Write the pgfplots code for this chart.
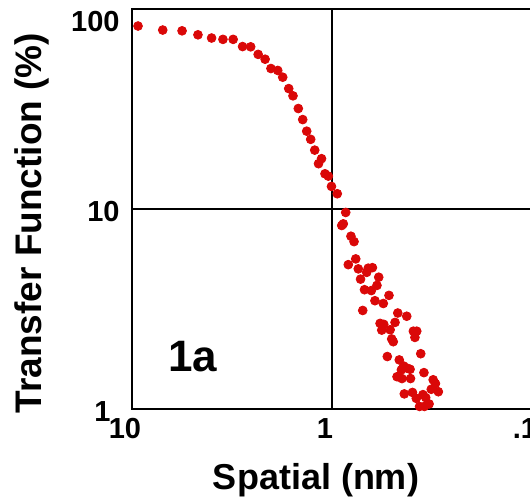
\documentclass[border=0pt]{standalone}
\usepackage{pgfplots}
\pgfplotsset{compat=1.18}
\usepackage{fontspec}
\setmainfont{Liberation Sans}
\definecolor{dotred}{RGB}{218,8,8}
\begin{document}
\begin{tikzpicture}
\begin{axis}[
  at={(66pt,45.5pt)}, anchor=south west,
  width=200pt, height=200pt, scale only axis,
  xmode=log, ymode=log, x dir=reverse,
  xmin=0.1, xmax=10, ymin=1, ymax=100,
  axis line style={line width=1pt},
  grid=major, major grid style={black, line width=1pt},
  major tick length=0pt, minor tick length=0pt,
  xtick={0.1,1,10}, xticklabels={.1,1,10},
  ytick={1,10}, yticklabels={{\makebox[0pt][r]{1\kern4pt}},10},
  extra y ticks={100}, extra y tick labels={100},
  extra y tick style={yticklabel style={yshift=-5pt}},
  xticklabel style={font=\bfseries\fontsize{14.5}{14.5}\selectfont, inner sep=0pt, anchor=north, yshift=-4.5pt, xshift=-3.5pt},
  yticklabel style={font=\bfseries\fontsize{14.5}{14.5}\selectfont, inner sep=0pt, anchor=east, xshift=-6pt, yshift=-1.5pt},
  xlabel={Spatial (nm)}, ylabel={Transfer Function (\%)},
  xlabel style={font=\bfseries\fontsize{18}{18}\selectfont, at={(axis description cs:0.46,-0.178)}, anchor=center},
  ylabel style={font=\bfseries\fontsize{18.5}{18.5}\selectfont, at={(axis description cs:-0.25,0.465)}, anchor=center},
  clip=false,
]
\addplot[only marks, mark=*, mark size=2.2pt, color=dotred, mark options={draw=dotred, fill=dotred}] coordinates {
(9.33,82.2) (7.02,78.5) (5.62,77.8) (4.68,74.3) (4.00,71.6) (3.51,70.5) (3.12,70.5)
(2.80,64.9) (2.55,64.7) (2.34,59.3) (2.16,56.1) (2.02,50.4) (1.868,49.3) (1.764,45.6)
(1.646,40.0) (1.567,36.8) (1.474,31.8) (1.401,28.0) (1.338,24.5) (1.278,22.3) (1.220,19.7)
(1.128,17.85) (1.168,16.85) (1.084,15.0) (1.043,14.6) (1.006,12.97) (0.941,11.92)
(0.854,9.61) (0.894,8.27) (0.878,8.43) (0.804,7.31) (0.776,6.87) (0.761,5.63) (0.829,5.27)
(0.739,5.02) (0.659,5.06) (0.628,5.09) (0.671,4.82) (0.584,4.56) (0.720,4.46) (0.596,4.15)
(0.688,3.95) (0.636,3.91) (0.519,3.70) (0.610,3.48) (0.554,3.37) (0.702,3.11) (0.469,3.02)
(0.423,2.91) (0.484,2.71) (0.575,2.68) (0.551,2.65) (0.564,2.48) (0.512,2.49) (0.392,2.45)
(0.377,2.45) (0.503,2.24) (0.494,2.17) (0.385,2.28) (0.360,1.89) (0.529,1.83) (0.461,1.76)
(0.438,1.64) (0.421,1.60) (0.450,1.57) (0.407,1.58) (0.473,1.45) (0.447,1.42) (0.405,1.42)
(0.347,1.52) (0.312,1.40) (0.304,1.34) (0.319,1.255) (0.294,1.22) (0.435,1.19) (0.396,1.21)
(0.379,1.13) (0.351,1.18) (0.340,1.14) (0.365,1.03) (0.345,1.03) (0.327,1.06)
};
\node[font=\bfseries\fontsize{22}{22}\selectfont, anchor=center] at (axis description cs:0.1525,0.13) {1a};
\end{axis}
\pgfresetboundingbox
\useasboundingbox (0,0) rectangle (265pt,250pt);
\end{tikzpicture}
\end{document}
